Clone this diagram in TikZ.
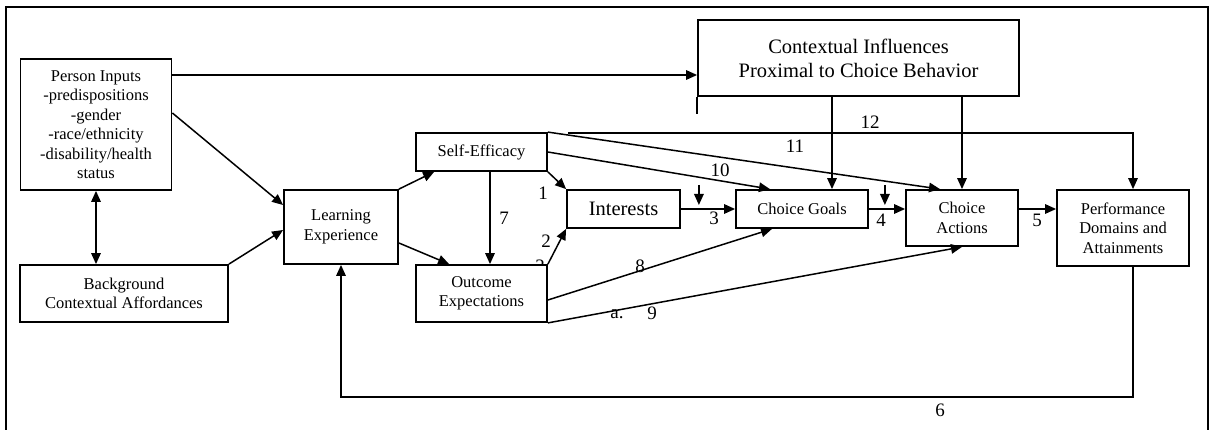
\documentclass[tikz,border=0pt]{standalone}
\usepackage{fontspec}
\setmainfont{Liberation Serif}
\usetikzlibrary{arrows.meta}

\tikzset{
  frameline/.style={line width=1.8pt},
  box/.style={draw, line width=1.8pt, fill=white, inner sep=0pt, align=center,
    font=\fontsize{16.5}{19.5}\selectfont},
  bigbox/.style={box, font=\fontsize{20.5}{24}\selectfont},
  conn/.style={line width=1.5pt},
  arr/.style={conn, -{Triangle[length=11pt,width=9.5pt]}},
  dblarr/.style={conn, {Triangle[length=11pt,width=9.5pt]}-{Triangle[length=11pt,width=9.5pt]}},
  num/.style={inner sep=0pt, font=\fontsize{19}{19}\selectfont},
}

\begin{document}
\begin{tikzpicture}[x=1pt,y=-1pt]
\useasboundingbox (0,0) rectangle (1215,430);

% outer frame, open at the bottom
\draw[frameline] (6,432) -- (6,7) -- (1208,7) -- (1208,432);

% label partly covered by the outcome box
\node[num] (l2b) at (540,266) {2};

% boxes
\node[box, minimum width=151pt, minimum height=131pt] (pi) at (96,124.5)
  {Person Inputs\\-predispositions\\-gender\\-race/ethnicity\\-disability/health\\status};
\node[box, minimum width=208pt, minimum height=57pt] (bg) at (124,293.5)
  {Background\\Contextual Affordances};
\node[box, minimum width=114pt, minimum height=74pt] (le) at (341,227)
  {Learning\\Experience};
\node[box, minimum width=131pt, minimum height=38pt] (se) at (481.5,152)
  {Self-Efficacy};
\node[box, minimum width=131pt, minimum height=57pt] (oe) at (481.5,293.5)
  {Outcome\\Expectations};
\node[bigbox, minimum width=113pt, minimum height=38pt] (int) at (623.5,209)
  {Interests};
\node[box, minimum width=132pt, minimum height=38pt] (cg) at (802,209)
  {Choice Goals};
\node[box, minimum width=112pt, minimum height=56pt] (ca) at (962,218)
  {Choice\\Actions};
\node[box, minimum width=132pt, minimum height=76pt] (perf) at (1123,228)
  {Performance\\Domains and\\Attainments};
\node[bigbox, minimum width=321pt, minimum height=76pt] (ctx) at (858.5,58)
  {Contextual Influences\\Proximal to Choice Behavior};
\draw[frameline] (ctx.south west) -- ++(0,17);

% person inputs and background
\draw[arr] (pi.east |- 0,75) -- (ctx.west |- 0,75);
\draw[arr] ([yshift=11.5pt]pi.east) -- ([yshift=22pt]le.west);
\draw[arr] (bg.north east) -- ([yshift=-3pt]le.west);
\draw[dblarr] (pi.south) -- (pi.south |- bg.north);

% learning experience
\draw[arr] (le.north east) -- ([xshift=19pt]se.south west);
\draw[arr] ([yshift=-16pt]le.east) -- ([xshift=34pt]oe.north west);

% self-efficacy and outcome expectations
\draw[arr] ([xshift=8.5pt]se.south) -- ([xshift=8.5pt]oe.north);
\draw[arr] (se.south east) -- (int.north west);
\draw[arr] (oe.north east) -- (int.south west);
\draw[arr] (se.east) -- ([xshift=-32pt]cg.north);
\draw[arr] (se.north east) -- ([xshift=-22pt]ca.north);
\draw[arr] ([yshift=-6.5pt]oe.east) -- ([xshift=-30pt]cg.south);
\draw[arr] (oe.south east) -- (ca.south);
\coordinate (s12) at ([xshift=20pt,yshift=-1pt]se.north east);
\coordinate (t12) at ([xshift=10pt]perf.north |- s12);
\draw[arr] (s12) -- (t12) -- ([xshift=10pt]perf.north);

% main chain
\draw[arr] (int.east) -- (cg.west);
\draw[arr] (cg.east) -- (cg.east -| ca.west);
\draw[arr] ([yshift=9pt]ca.east) -- ([yshift=9pt]ca.east -| perf.west);

% moderator arrows
\coordinate (m1) at ([xshift=18pt]int.east);
\coordinate (m2) at ([xshift=16pt]cg.east);
\draw[arr] ([yshift=24pt]m1) -- ([yshift=4pt]m1);
\draw[arr] ([yshift=24pt]m2) -- ([yshift=4pt]m2);

% contextual influences
\draw[arr] ([xshift=30pt]cg.north |- ctx.south) -- ([xshift=30pt]cg.north);
\draw[arr] (ca.north |- ctx.south) -- (ca.north);

% feedback loop
\draw[arr] ([xshift=10pt]perf.south) -- ([xshift=10pt]perf.south |- 0,397) -| (le.south);

% path numbers
\node[num] (n1) at (543,193) {1};
\node[num] (n2) at (546,241) {2};
\node[num] (n3) at (714,218) {3};
\node[num] (n4) at (881,220) {4};
\node[num] (n5) at (1037,220) {5};
\node[num] (n6) at (940,410) {6};
\node[num] (n7) at (504,218) {7};
\node[num] (n8) at (640,266) {8};
\node[num] (na) at (617,314) {a.};
\node[num] (n9) at (652,313) {9};
\node[num] (n10) at (720,170) {10};
\node[num] (n11) at (795,146) {11};
\node[num] (n12) at (870,122) {12};
\end{tikzpicture}
\end{document}
